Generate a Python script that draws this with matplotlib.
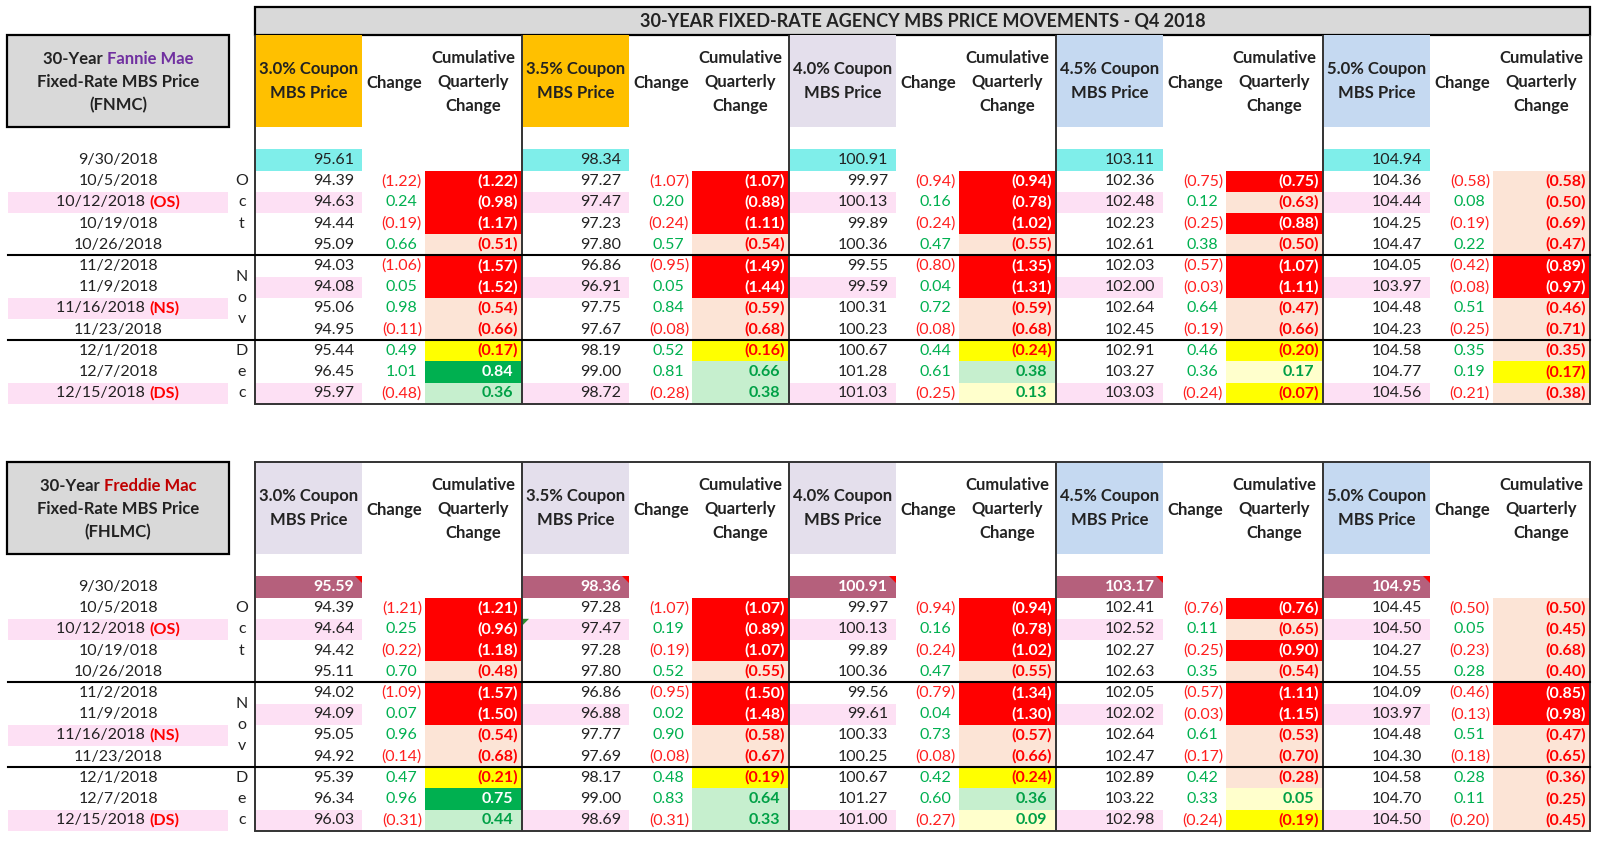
import matplotlib
matplotlib.use('Agg')
import matplotlib.pyplot as plt
from matplotlib.patches import Rectangle, Polygon

plt.rcParams['font.family'] = ['Lato', 'DejaVu Sans']

# ---- data ----
title = '30-YEAR FIXED-RATE AGENCY MBS PRICE MOVEMENTS - Q4 2018'
dates = ['9/30/2018', '10/5/2018', '10/12/2018', '10/19/018', '10/26/2018', '11/2/2018',
         '11/9/2018', '11/16/2018', '11/23/2018', '12/1/2018', '12/7/2018', '12/15/2018']
date_tags = ['', '', '(OS)', '', '', '', '', '(NS)', '', '', '', '(DS)']
coupons = ['3.0%', '3.5%', '4.0%', '4.5%', '5.0%']
col_headers = ['Change', 'Cumulative\nQuarterly\nChange']

# Fannie Mae (FNMC)
fn_prices = [
    [95.61, 94.39, 94.63, 94.44, 95.09, 94.03, 94.08, 95.06, 94.95, 95.44, 96.45, 95.97],
    [98.34, 97.27, 97.47, 97.23, 97.80, 96.86, 96.91, 97.75, 97.67, 98.19, 99.00, 98.72],
    [100.91, 99.97, 100.13, 99.89, 100.36, 99.55, 99.59, 100.31, 100.23, 100.67, 101.28, 101.03],
    [103.11, 102.36, 102.48, 102.23, 102.61, 102.03, 102.00, 102.64, 102.45, 102.91, 103.27, 103.03],
    [104.94, 104.36, 104.44, 104.25, 104.47, 104.05, 103.97, 104.48, 104.23, 104.58, 104.77, 104.56],
]
fn_changes = [
    [-1.22, 0.24, -0.19, 0.66, -1.06, 0.05, 0.98, -0.11, 0.49, 1.01, -0.48],
    [-1.07, 0.20, -0.24, 0.57, -0.95, 0.05, 0.84, -0.08, 0.52, 0.81, -0.28],
    [-0.94, 0.16, -0.24, 0.47, -0.80, 0.04, 0.72, -0.08, 0.44, 0.61, -0.25],
    [-0.75, 0.12, -0.25, 0.38, -0.57, -0.03, 0.64, -0.19, 0.46, 0.36, -0.24],
    [-0.58, 0.08, -0.19, 0.22, -0.42, -0.08, 0.51, -0.25, 0.35, 0.19, -0.21],
]
fn_cumul = [
    [-1.22, -0.98, -1.17, -0.51, -1.57, -1.52, -0.54, -0.66, -0.17, 0.84, 0.36],
    [-1.07, -0.88, -1.11, -0.54, -1.49, -1.44, -0.59, -0.68, -0.16, 0.66, 0.38],
    [-0.94, -0.78, -1.02, -0.55, -1.35, -1.31, -0.59, -0.68, -0.24, 0.38, 0.13],
    [-0.75, -0.63, -0.88, -0.50, -1.07, -1.11, -0.47, -0.66, -0.20, 0.17, -0.07],
    [-0.58, -0.50, -0.69, -0.47, -0.89, -0.97, -0.46, -0.71, -0.35, -0.17, -0.38],
]
fn_cum_fmt = ['RRRPRRPPYGL', 'RRRPRRPPYLL', 'RRRPRRPPYLC', 'RPRPRRPPYCY', 'PPPPRRPPPYP']
fn_head_colors = ['#FFC000', '#FFC000', '#E4DFEC', '#C5D9F1', '#C5D9F1']

# Freddie Mac (FHLMC)
fh_prices = [
    [95.59, 94.39, 94.64, 94.42, 95.11, 94.02, 94.09, 95.05, 94.92, 95.39, 96.34, 96.03],
    [98.36, 97.28, 97.47, 97.28, 97.80, 96.86, 96.88, 97.77, 97.69, 98.17, 99.00, 98.69],
    [100.91, 99.97, 100.13, 99.89, 100.36, 99.56, 99.61, 100.33, 100.25, 100.67, 101.27, 101.00],
    [103.17, 102.41, 102.52, 102.27, 102.63, 102.05, 102.02, 102.64, 102.47, 102.89, 103.22, 102.98],
    [104.95, 104.45, 104.50, 104.27, 104.55, 104.09, 103.97, 104.48, 104.30, 104.58, 104.70, 104.50],
]
fh_changes = [
    [-1.21, 0.25, -0.22, 0.70, -1.09, 0.07, 0.96, -0.14, 0.47, 0.96, -0.31],
    [-1.07, 0.19, -0.19, 0.52, -0.95, 0.02, 0.90, -0.08, 0.48, 0.83, -0.31],
    [-0.94, 0.16, -0.24, 0.47, -0.79, 0.04, 0.73, -0.08, 0.42, 0.60, -0.27],
    [-0.76, 0.11, -0.25, 0.35, -0.57, -0.03, 0.61, -0.17, 0.42, 0.33, -0.24],
    [-0.50, 0.05, -0.23, 0.28, -0.46, -0.13, 0.51, -0.18, 0.28, 0.11, -0.20],
]
fh_cumul = [
    [-1.21, -0.96, -1.18, -0.48, -1.57, -1.50, -0.54, -0.68, -0.21, 0.75, 0.44],
    [-1.07, -0.89, -1.07, -0.55, -1.50, -1.48, -0.58, -0.67, -0.19, 0.64, 0.33],
    [-0.94, -0.78, -1.02, -0.55, -1.34, -1.30, -0.57, -0.66, -0.24, 0.36, 0.09],
    [-0.76, -0.65, -0.90, -0.54, -1.11, -1.15, -0.53, -0.70, -0.28, 0.05, -0.19],
    [-0.50, -0.45, -0.68, -0.40, -0.85, -0.98, -0.47, -0.65, -0.36, -0.25, -0.45],
]
fh_cum_fmt = ['RRRPRRPPYGL', 'RRRPRRPPYLL', 'RRRPRRPPYLC', 'RPRPRRPPPCY', 'PPPPRRPPPPP']
fh_head_colors = ['#E4DFEC', '#E4DFEC', '#E4DFEC', '#C5D9F1', '#C5D9F1']

# ---- styles ----
cum_styles = {'R': ('#FF0000', 'white'), 'P': ('#FCE4D6', '#FF0000'), 'Y': ('#FFFF00', '#FF0000'),
              'G': ('#00B050', 'white'), 'L': ('#C6EFCE', '#00A046'), 'C': ('#FFFFCC', '#00A046')}
PINK = '#FDE0F4'
price_pink_rows = [2, 6, 11]
date_pink_rows = [2, 7, 11]
TXT = '#222222'
X0, GW = 255, 267
PW, CW = 106, 170          # price width, start of cumulative col
STEP = 21.2
BODY, HEAD = 11.5, 12

fig = plt.figure(figsize=(16, 8.42), dpi=100)
ax = fig.add_axes([0, 0, 1, 1])
ax.set_xlim(0, 1600)
ax.set_ylim(842, 0)
ax.axis('off')
renderer = fig.canvas.get_renderer()


def width_of(t):
    return t.get_window_extent(renderer).width


def centered_pieces(x, y, pieces, size, weight='bold'):
    texts = [ax.text(0, y, s, color=c, fontsize=size, fontweight=weight, va='center', ha='left')
             for s, c in pieces]
    total = sum(width_of(t) for t in texts)
    cur = x - total / 2
    for t in texts:
        t.set_x(cur)
        cur += width_of(t)


def fmt(v):
    return '(%.2f)' % abs(v) if v < 0 else '%.2f' % v


def draw_table(top, agency, agency_color, code, prices, changes, cumul, cum_fmt, head_colors, mauve):
    row0 = top + 125
    bottom = row0 + 11 * STEP + 11
    # agency box
    ax.add_patch(Rectangle((7, top), 222, 92, facecolor='#D9D9D9', edgecolor='black', lw=1.6))
    centered_pieces(118, top + 24, [('30-Year ', TXT), (agency, agency_color)], HEAD)
    ax.text(118, top + 47, 'Fixed-Rate MBS Price', fontsize=HEAD, fontweight='bold',
            color=TXT, ha='center', va='center')
    ax.text(118, top + 70, '(' + code + ')', fontsize=HEAD, fontweight='bold',
            color=TXT, ha='center', va='center')

    # date column
    for i, d in enumerate(dates):
        y = row0 + i * STEP
        if i in date_pink_rows:
            ax.add_patch(Rectangle((8, y - STEP / 2), 220, STEP, facecolor=PINK, edgecolor='none'))
        if date_tags[i]:
            t1 = ax.text(0, y, d + ' ', fontsize=BODY, color=TXT, va='center', ha='left')
            t2 = ax.text(0, y, date_tags[i], fontsize=BODY, fontweight='bold', color='#FF0000',
                         va='center', ha='left')
            w1, w2 = width_of(t1), width_of(t2)
            t1.set_x(118 - (w1 + w2) / 2)
            t2.set_x(118 - (w1 + w2) / 2 + w1)
        else:
            ax.text(118, y, d, fontsize=BODY, color=TXT, va='center', ha='center')
    for i, ch in zip([1, 2, 3], 'Oct'):
        ax.text(242, row0 + i * STEP, ch, fontsize=BODY, color=TXT, ha='center', va='center')
    for i, ch in zip([5.5, 6.5, 7.5], 'Nov'):
        ax.text(242, row0 + i * STEP, ch, fontsize=BODY, color=TXT, ha='center', va='center')
    for i, ch in zip([9, 10, 11], 'Dec'):
        ax.text(242, row0 + i * STEP, ch, fontsize=BODY, color=TXT, ha='center', va='center')

    for g, cp in enumerate(coupons):
        gx = X0 + g * GW
        # header
        ax.add_patch(Rectangle((gx + 1, top), PW, 92, facecolor=head_colors[g], edgecolor='none'))
        ax.text(gx + 1 + PW / 2, top + 46, cp + ' Coupon\nMBS Price', fontsize=HEAD, fontweight='bold',
                color=TXT, ha='center', va='center', linespacing=1.6)
        ax.text(gx + (PW + CW) / 2 + 1, top + 48, col_headers[0], fontsize=HEAD, fontweight='bold',
                color=TXT, ha='center', va='center')
        ax.text(gx + (CW + GW) / 2, top + 47, col_headers[1], fontsize=HEAD, fontweight='bold',
                color=TXT, ha='center', va='center', linespacing=1.6)

        # starting price
        y = row0
        if mauve:
            ax.add_patch(Rectangle((gx + 1, y - STEP / 2), PW, STEP, facecolor='#B5607C', edgecolor='none'))
            ax.add_patch(Polygon([(gx + PW - 6, y - STEP / 2), (gx + PW + 1, y - STEP / 2),
                                  (gx + PW + 1, y - STEP / 2 + 7)], closed=True,
                                 facecolor='#FF0000', edgecolor='none'))
            ax.text(gx + PW - 7, y, '%.2f' % prices[g][0], fontsize=BODY, fontweight='bold',
                    color='white', ha='right', va='center')
        else:
            ax.add_patch(Rectangle((gx + 1, y - STEP / 2), PW, STEP, facecolor='#7FEEEA', edgecolor='none'))
            ax.text(gx + PW - 7, y, '%.2f' % prices[g][0], fontsize=BODY, color=TXT,
                    ha='right', va='center')

        for i in range(1, len(dates)):
            y = row0 + i * STEP
            if i in price_pink_rows:
                ax.add_patch(Rectangle((gx + 1, y - STEP / 2), PW, STEP, facecolor=PINK, edgecolor='none'))
            ax.text(gx + PW - 7, y, '%.2f' % prices[g][i], fontsize=BODY, color=TXT,
                    ha='right', va='center')
            c = changes[g][i - 1]
            ax.text(gx + CW - (3 if c < 0 else 8), y, fmt(c), fontsize=BODY,
                    color='#FF2020' if c < 0 else '#00B050', ha='right', va='center')
            fc, tc = cum_styles[cum_fmt[g][i - 1]]
            ax.add_patch(Rectangle((gx + CW, y - STEP / 2), GW - CW, STEP, facecolor=fc, edgecolor='none'))
            v = cumul[g][i - 1]
            ax.text(gx + GW - (4 if v < 0 else 9), y, fmt(v), fontsize=BODY, fontweight='bold',
                    color=tc, ha='right', va='center')

    # grid lines
    for g in range(6):
        ax.plot([X0 + g * GW, X0 + g * GW], [top, bottom], color='#333333', lw=1.4,
                solid_capstyle='butt')
    ax.plot([X0, X0 + 5 * GW], [bottom, bottom], color='#333333', lw=1.4)
    for r in [4.5, 8.5]:
        yl = row0 + r * STEP
        ax.plot([8, X0 + 5 * GW], [yl, yl], color='black', lw=1.5)
    return row0


# title bar
ax.add_patch(Rectangle((X0, 7), 5 * GW, 28, facecolor='#D9D9D9', edgecolor='black', lw=1.6))
ax.text(X0 + 5 * GW / 2, 21, title, fontsize=13, fontweight='bold', color=TXT,
        ha='center', va='center')

draw_table(35, 'Fannie Mae', '#7030A0', 'FNMC', fn_prices, fn_changes, fn_cumul,
           fn_cum_fmt, fn_head_colors, False)
r0 = draw_table(462, 'Freddie Mac', '#C00000', 'FHLMC', fh_prices, fh_changes, fh_cumul,
                fh_cum_fmt, fh_head_colors, True)
ax.plot([X0, X0 + 5 * GW], [462, 462], color='#333333', lw=1.4)
# small green marker on the 3.5% cell of 10/12 (lower table)
yt = r0 + 2 * STEP - STEP / 2
ax.add_patch(Polygon([(X0 + GW + 1, yt), (X0 + GW + 7, yt), (X0 + GW + 1, yt + 6)], closed=True,
                     facecolor='#2E8B2E', edgecolor='none'))

fig.savefig('out.png', dpi=100)
